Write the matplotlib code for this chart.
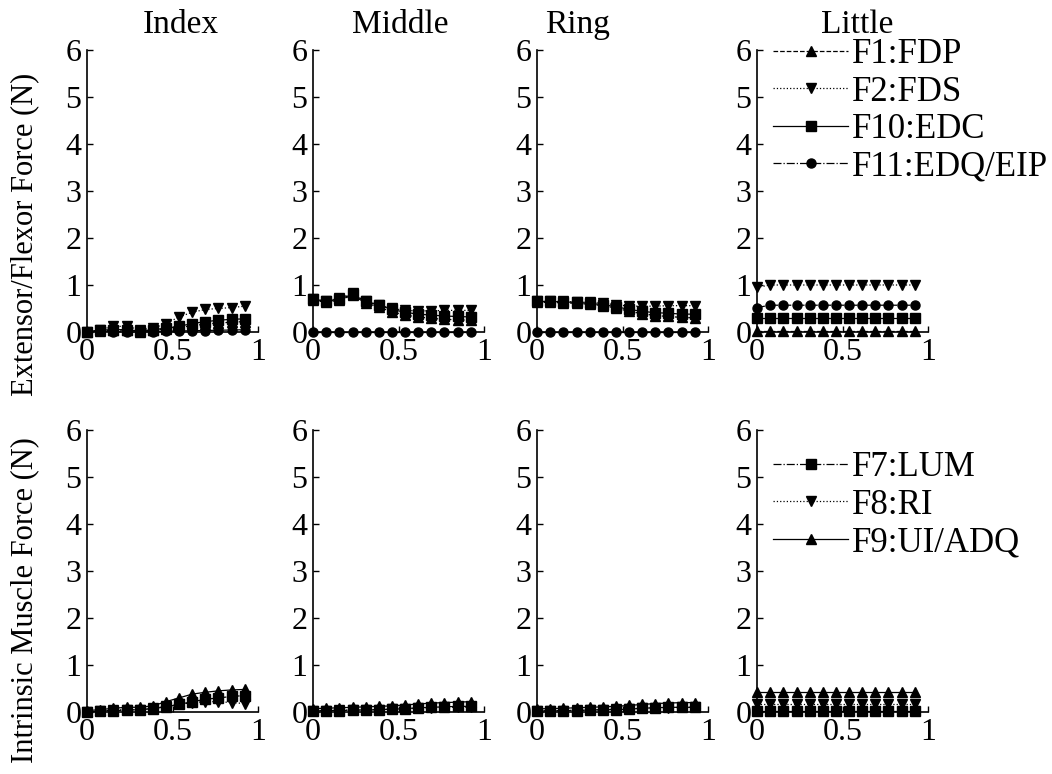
import matplotlib
matplotlib.use("Agg")
import matplotlib.pyplot as plt

plt.rcParams['font.family'] = ['Liberation Serif', 'DejaVu Serif']

fingers = ["Index", "Middle", "Ring", "Little"]
x = [0, 0.077, 0.154, 0.231, 0.308, 0.385, 0.462, 0.538, 0.615, 0.692, 0.769, 0.846, 0.923]

# Extrinsic (top row)
F1_FDP = {
    "Index":  [0.0, 0.03, 0.04, 0.04, 0.01, 0.04, 0.07, 0.10, 0.13, 0.17, 0.19, 0.21, 0.22],
    "Middle": [0.68, 0.63, 0.68, 0.78, 0.62, 0.53, 0.43, 0.36, 0.32, 0.29, 0.27, 0.26, 0.25],
    "Ring":   [0.63, 0.63, 0.62, 0.61, 0.59, 0.56, 0.51, 0.44, 0.39, 0.35, 0.33, 0.31, 0.30],
    "Little": [0.02] * 13,
}
F2_FDS = {
    "Index":  [0.0, 0.05, 0.12, 0.12, 0.05, 0.08, 0.18, 0.32, 0.42, 0.48, 0.50, 0.52, 0.55],
    "Middle": [0.70, 0.66, 0.72, 0.82, 0.66, 0.58, 0.50, 0.46, 0.45, 0.45, 0.46, 0.46, 0.46],
    "Ring":   [0.65, 0.65, 0.65, 0.64, 0.63, 0.61, 0.58, 0.55, 0.55, 0.55, 0.56, 0.56, 0.56],
    "Little": [0.95, 1.0, 1.0, 1.0, 1.0, 1.0, 1.0, 1.0, 1.0, 1.0, 1.0, 1.0, 1.0],
}
F10_EDC = {
    "Index":  [0.0, 0.04, 0.05, 0.05, 0.02, 0.05, 0.08, 0.12, 0.18, 0.22, 0.25, 0.27, 0.28],
    "Middle": [0.70, 0.65, 0.70, 0.80, 0.65, 0.57, 0.48, 0.42, 0.38, 0.36, 0.34, 0.33, 0.32],
    "Ring":   [0.65, 0.65, 0.64, 0.63, 0.61, 0.58, 0.54, 0.48, 0.44, 0.41, 0.40, 0.38, 0.38],
    "Little": [0.30] * 13,
}
F11_EDQ = {
    "Index":  [0.0, 0.02, 0.01, 0.0, 0.0, 0.01, 0.02, 0.02, 0.03, 0.03, 0.04, 0.04, 0.05],
    "Middle": [0.0] * 13,
    "Ring":   [0.0] * 13,
    "Little": [0.52, 0.57, 0.57, 0.57, 0.57, 0.57, 0.57, 0.57, 0.57, 0.57, 0.57, 0.57, 0.57],
}

# Intrinsic (bottom row)
F7_LUM = {
    "Index":  [0.0, 0.02, 0.03, 0.04, 0.05, 0.07, 0.11, 0.16, 0.22, 0.27, 0.30, 0.33, 0.35],
    "Middle": [0.02, 0.03, 0.03, 0.04, 0.04, 0.05, 0.06, 0.07, 0.09, 0.10, 0.11, 0.12, 0.12],
    "Ring":   [0.02, 0.02, 0.03, 0.03, 0.04, 0.05, 0.05, 0.06, 0.08, 0.09, 0.10, 0.10, 0.10],
    "Little": [0.02] * 13,
}
F8_RI = {
    "Index":  [0.0, 0.02, 0.04, 0.05, 0.05, 0.08, 0.12, 0.16, 0.20, 0.22, 0.22, 0.20, 0.18],
    "Middle": [0.03, 0.03, 0.04, 0.04, 0.05, 0.05, 0.06, 0.07, 0.08, 0.09, 0.10, 0.10, 0.10],
    "Ring":   [0.03, 0.03, 0.03, 0.04, 0.04, 0.05, 0.06, 0.07, 0.08, 0.09, 0.09, 0.10, 0.10],
    "Little": [0.17] * 13,
}
F9_UI = {
    "Index":  [0.03, 0.05, 0.08, 0.10, 0.10, 0.13, 0.22, 0.30, 0.38, 0.42, 0.45, 0.47, 0.48],
    "Middle": [0.07, 0.08, 0.09, 0.10, 0.11, 0.12, 0.13, 0.15, 0.17, 0.19, 0.20, 0.21, 0.22],
    "Ring":   [0.07, 0.07, 0.08, 0.09, 0.10, 0.11, 0.12, 0.14, 0.16, 0.18, 0.19, 0.20, 0.20],
    "Little": [0.42] * 13,
}

top_series = [("F1:FDP", F1_FDP, '--', '^'),
              ("F2:FDS", F2_FDS, ':', 'v'),
              ("F10:EDC", F10_EDC, '-', 's'),
              ("F11:EDQ/EIP", F11_EDQ, '-.', 'o')]
bot_series = [("F7:LUM", F7_LUM, '-.', 's'),
              ("F8:RI", F8_RI, ':', 'v'),
              ("F9:UI/ADQ", F9_UI, '-', '^')]

W, H = 1052, 774
fig = plt.figure(figsize=(W / 100, H / 100), dpi=100)

lefts = [87, 313, 537, 757]
ax_w = 171
rows = [(50, 332, top_series), (430, 712, bot_series)]
title_x = [181, 400, 578, 857]
TICK_FS = 23
TITLE_FS = 24
LEG_FS = 25
YLAB_FS = 22

for r, (ytop, ybot, series) in enumerate(rows):
    for c, fname in enumerate(fingers):
        ax = fig.add_axes([lefts[c] / W, 1 - ybot / H, ax_w / W, (ybot - ytop) / H])
        for label, d, ls, mk in series:
            ax.plot(x, d[fname], linestyle=ls, marker=mk, color='black',
                    linewidth=0.9, markersize=6.5, label=label, clip_on=False)
        ax.set_xlim(0, 1)
        ax.set_ylim(0, 6)
        ax.set_xticks([0, 0.5, 1])
        ax.set_xticklabels(["0", "0.5", "1"])
        ax.set_yticks(range(7))
        ax.spines['top'].set_visible(False)
        ax.spines['right'].set_visible(False)
        for s in ('left', 'bottom'):
            ax.spines[s].set_linewidth(1.2)
        ax.tick_params(direction='in', length=4, width=1, labelsize=TICK_FS)
        ax.tick_params(axis='x', pad=4)
        ax.tick_params(axis='y', pad=4)
        ax.patch.set_alpha(0)
        if r == 0:
            fig.text(title_x[c] / W, 1 - 33 / H, fname, ha='center', va='baseline',
                     fontsize=TITLE_FS)
        if c == 3:
            ytop_leg = 38 if r == 0 else 451
            ax.legend(loc='upper left', bbox_to_anchor=(773 / W, 1 - ytop_leg / H),
                      bbox_transform=fig.transFigure, frameon=False, fontsize=LEG_FS,
                      handlelength=2.16, handletextpad=0.1, labelspacing=0.13,
                      borderpad=0, borderaxespad=0, numpoints=1)

fig.text(25 / W, 1 - 234 / H, "Extensor/Flexor Force (N)", rotation=90,
         ha='center', va='center', fontsize=YLAB_FS)
fig.text(25 / W, 1 - 600 / H, "Intrinsic Muscle Force (N)", rotation=90,
         ha='center', va='center', fontsize=YLAB_FS)

fig.savefig("out.png", dpi=100, facecolor='white')
